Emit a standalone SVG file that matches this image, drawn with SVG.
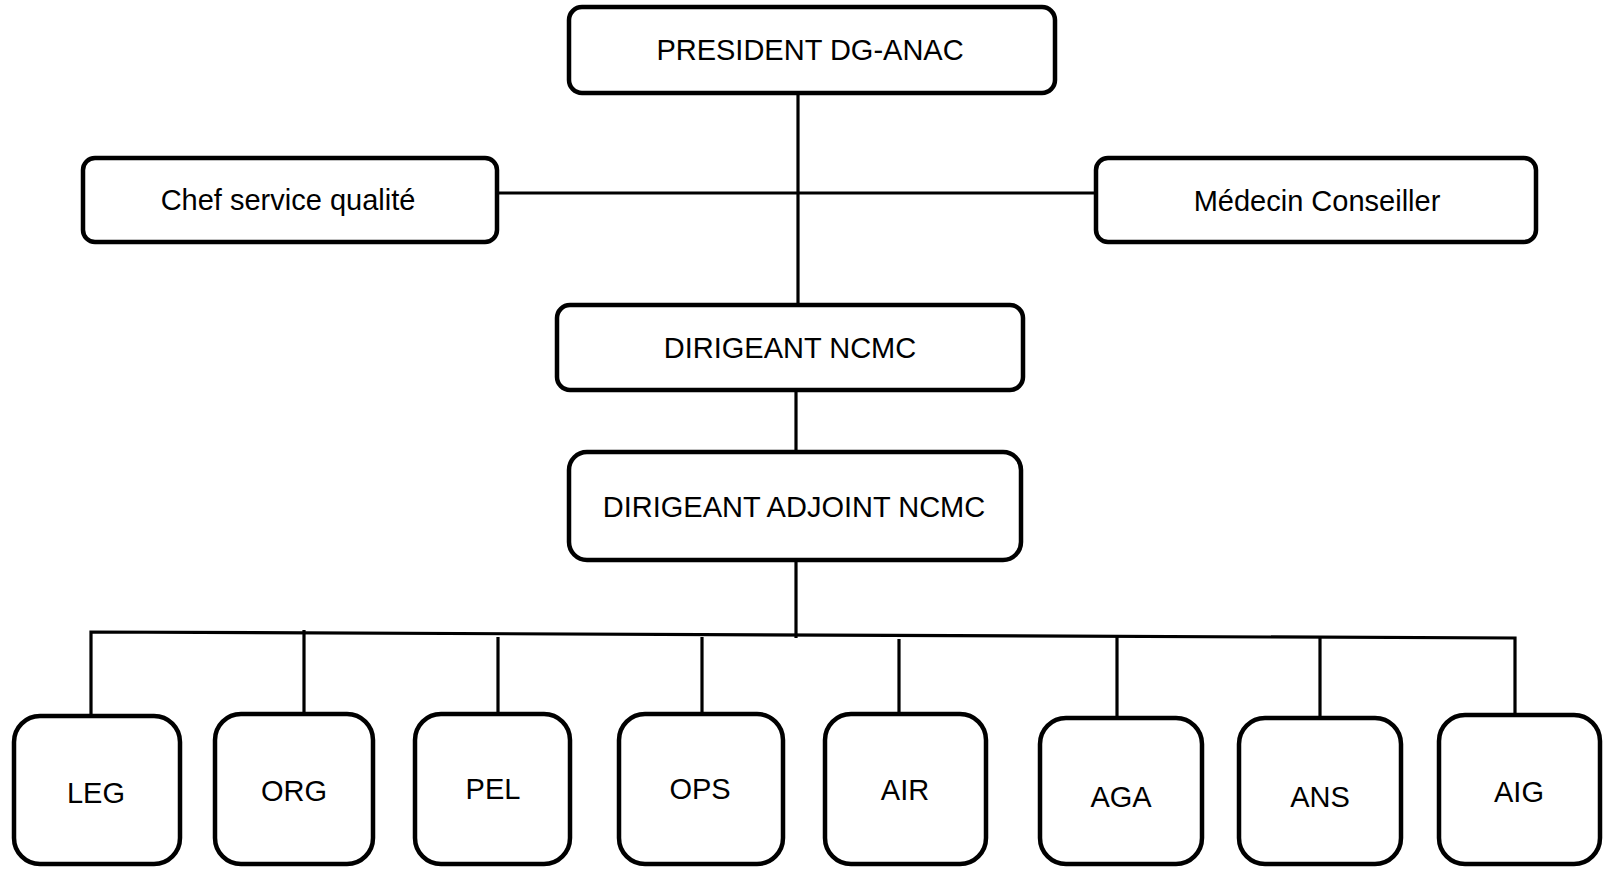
<svg xmlns="http://www.w3.org/2000/svg" width="1604" height="869" viewBox="0 0 1604 869">
<style>
.box{fill:#fff;stroke:#000;stroke-width:4.5}
.ln{fill:none;stroke:#000;stroke-width:3.2}
text{font-family:"Liberation Sans",Arial,sans-serif;font-size:29px;fill:#000;text-anchor:middle}
</style>
<rect width="1604" height="869" fill="#fff"/>
<g id="connectors">
<line class="ln" x1="798" y1="95" x2="798" y2="303"/>
<line class="ln" x1="499" y1="193" x2="1094" y2="193"/>
<line class="ln" x1="796" y1="392" x2="796" y2="450"/>
<line class="ln" x1="796" y1="562" x2="796" y2="638"/>
<polyline class="ln" points="91,716 91,632 1515,638 1515,713"/>
<line class="ln" x1="304" y1="630" x2="304" y2="714"/>
<line class="ln" x1="498" y1="637" x2="498" y2="714"/>
<line class="ln" x1="702" y1="637" x2="702" y2="714"/>
<line class="ln" x1="899" y1="639" x2="899" y2="714"/>
<line class="ln" x1="1117" y1="636" x2="1117" y2="718"/>
<line class="ln" x1="1320" y1="637" x2="1320" y2="718"/>
</g>
<g id="president"><rect class="box" x="569" y="7" width="486" height="86" rx="13"/><text x="810" y="60">PRESIDENT DG-ANAC</text></g>
<g id="chef"><rect class="box" x="83" y="158" width="414" height="84" rx="12"/><text x="288" y="210">Chef service qualité</text></g>
<g id="medecin"><rect class="box" x="1096" y="158" width="440" height="84" rx="12"/><text x="1317" y="211">Médecin Conseiller</text></g>
<g id="dirigeant"><rect class="box" x="557" y="305" width="466" height="85" rx="13"/><text x="790" y="358">DIRIGEANT NCMC</text></g>
<g id="adjoint"><rect class="box" x="569" y="452" width="452" height="108" rx="18"/><text x="794" y="517" font-size="27.3">DIRIGEANT ADJOINT NCMC</text></g>
<g id="leg"><rect class="box" x="14" y="716" width="166" height="148" rx="26"/><text x="96" y="803">LEG</text></g>
<g id="org"><rect class="box" x="215" y="714" width="158" height="150" rx="26"/><text x="294" y="801">ORG</text></g>
<g id="pel"><rect class="box" x="415" y="714" width="155" height="150" rx="26"/><text x="493" y="799">PEL</text></g>
<g id="ops"><rect class="box" x="619" y="714" width="164" height="150" rx="26"/><text x="700" y="799">OPS</text></g>
<g id="air"><rect class="box" x="825" y="714" width="161" height="150" rx="26"/><text x="905" y="800">AIR</text></g>
<g id="aga"><rect class="box" x="1040" y="718" width="162" height="146" rx="26"/><text x="1121" y="807">AGA</text></g>
<g id="ans"><rect class="box" x="1239" y="718" width="162" height="146" rx="26"/><text x="1320" y="807">ANS</text></g>
<g id="aig"><rect class="box" x="1439" y="715" width="161" height="149" rx="26"/><text x="1519" y="802">AIG</text></g>
</svg>
